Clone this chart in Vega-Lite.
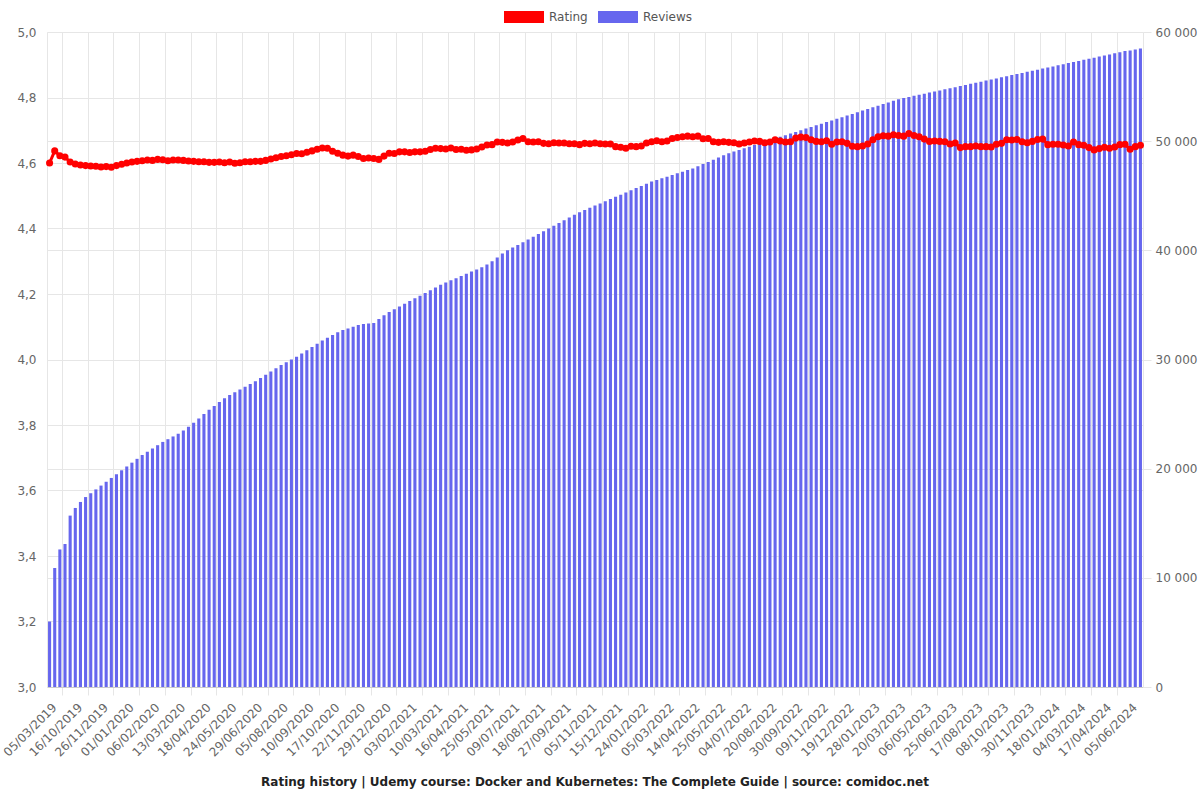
{
"$schema": "https://vega.github.io/schema/vega-lite/v6.json",
"width": 1096, "height": 655,
"autosize": {"type": "none"},
"padding": {"left": 47, "top": 32, "right": 57, "bottom": 113},
"background": "white",
"config": {"font": "DejaVu Sans", "view": {"stroke": null}, "axis": {"labelFont": "DejaVu Sans", "labelFontSize": 12, "labelColor": "#666666"}, "legend": {"labelFont": "DejaVu Sans"}},
"title": {"text": "Rating history | Udemy course: Docker and Kubernetes: The Complete Guide | source: comidoc.net", "orient": "bottom", "anchor": "middle", "fontSize": 12, "fontWeight": "bold", "color": "#222222", "font": "DejaVu Sans", "offset": 19},
"data": {"values": [
{"date":"05/03/2019","rating":4.600,"reviews":6000},
{"date":"19/04/2019","rating":4.637,"reviews":10900},
{"date":"03/06/2019","rating":4.622,"reviews":12600},
{"date":"18/07/2019","rating":4.618,"reviews":13100},
{"date":"01/09/2019","rating":4.603,"reviews":15700},
{"date":"16/10/2019","rating":4.597,"reviews":16400},
{"date":"24/10/2019","rating":4.594,"reviews":16950},
{"date":"01/11/2019","rating":4.592,"reviews":17400},
{"date":"09/11/2019","rating":4.591,"reviews":17750},
{"date":"17/11/2019","rating":4.590,"reviews":18100},
{"date":"26/11/2019","rating":4.588,"reviews":18450},
{"date":"03/12/2019","rating":4.589,"reviews":18800},
{"date":"10/12/2019","rating":4.587,"reviews":19150},
{"date":"17/12/2019","rating":4.592,"reviews":19500},
{"date":"24/12/2019","rating":4.596,"reviews":19850},
{"date":"01/01/2020","rating":4.600,"reviews":20200},
{"date":"08/01/2020","rating":4.603,"reviews":20550},
{"date":"15/01/2020","rating":4.605,"reviews":20900},
{"date":"22/01/2020","rating":4.607,"reviews":21250},
{"date":"29/01/2020","rating":4.609,"reviews":21550},
{"date":"06/02/2020","rating":4.608,"reviews":21850},
{"date":"13/02/2020","rating":4.611,"reviews":22150},
{"date":"20/02/2020","rating":4.610,"reviews":22450},
{"date":"27/02/2020","rating":4.607,"reviews":22700},
{"date":"05/03/2020","rating":4.609,"reviews":22950},
{"date":"13/03/2020","rating":4.609,"reviews":23200},
{"date":"20/03/2020","rating":4.608,"reviews":23500},
{"date":"27/03/2020","rating":4.606,"reviews":23850},
{"date":"03/04/2020","rating":4.605,"reviews":24200},
{"date":"10/04/2020","rating":4.604,"reviews":24600},
{"date":"18/04/2020","rating":4.604,"reviews":25000},
{"date":"25/04/2020","rating":4.602,"reviews":25400},
{"date":"02/05/2020","rating":4.602,"reviews":25750},
{"date":"09/05/2020","rating":4.603,"reviews":26100},
{"date":"16/05/2020","rating":4.601,"reviews":26450},
{"date":"24/05/2020","rating":4.603,"reviews":26750},
{"date":"31/05/2020","rating":4.599,"reviews":27000},
{"date":"07/06/2020","rating":4.601,"reviews":27250},
{"date":"14/06/2020","rating":4.604,"reviews":27500},
{"date":"21/06/2020","rating":4.604,"reviews":27750},
{"date":"29/06/2020","rating":4.605,"reviews":28000},
{"date":"06/07/2020","rating":4.605,"reviews":28300},
{"date":"13/07/2020","rating":4.608,"reviews":28600},
{"date":"20/07/2020","rating":4.612,"reviews":28900},
{"date":"27/07/2020","rating":4.616,"reviews":29200},
{"date":"05/08/2020","rating":4.620,"reviews":29500},
{"date":"12/08/2020","rating":4.622,"reviews":29750},
{"date":"19/08/2020","rating":4.625,"reviews":30000},
{"date":"26/08/2020","rating":4.629,"reviews":30250},
{"date":"02/09/2020","rating":4.628,"reviews":30550},
{"date":"10/09/2020","rating":4.633,"reviews":30850},
{"date":"17/09/2020","rating":4.637,"reviews":31150},
{"date":"24/09/2020","rating":4.642,"reviews":31450},
{"date":"01/10/2020","rating":4.646,"reviews":31750},
{"date":"08/10/2020","rating":4.645,"reviews":32000},
{"date":"17/10/2020","rating":4.636,"reviews":32250},
{"date":"24/10/2020","rating":4.630,"reviews":32500},
{"date":"31/10/2020","rating":4.624,"reviews":32700},
{"date":"07/11/2020","rating":4.621,"reviews":32850},
{"date":"14/11/2020","rating":4.624,"reviews":33000},
{"date":"22/11/2020","rating":4.620,"reviews":33150},
{"date":"29/11/2020","rating":4.614,"reviews":33250},
{"date":"06/12/2020","rating":4.615,"reviews":33300},
{"date":"13/12/2020","rating":4.614,"reviews":33350},
{"date":"20/12/2020","rating":4.611,"reviews":33700},
{"date":"29/12/2020","rating":4.621,"reviews":34050},
{"date":"05/01/2021","rating":4.630,"reviews":34350},
{"date":"12/01/2021","rating":4.629,"reviews":34600},
{"date":"19/01/2021","rating":4.634,"reviews":34850},
{"date":"26/01/2021","rating":4.634,"reviews":35100},
{"date":"03/02/2021","rating":4.632,"reviews":35350},
{"date":"10/02/2021","rating":4.634,"reviews":35600},
{"date":"17/02/2021","rating":4.634,"reviews":35850},
{"date":"24/02/2021","rating":4.636,"reviews":36100},
{"date":"03/03/2021","rating":4.641,"reviews":36350},
{"date":"10/03/2021","rating":4.645,"reviews":36600},
{"date":"17/03/2021","rating":4.644,"reviews":36850},
{"date":"24/03/2021","rating":4.643,"reviews":37050},
{"date":"31/03/2021","rating":4.646,"reviews":37250},
{"date":"08/04/2021","rating":4.641,"reviews":37450},
{"date":"16/04/2021","rating":4.642,"reviews":37650},
{"date":"24/04/2021","rating":4.639,"reviews":37850},
{"date":"02/05/2021","rating":4.640,"reviews":38050},
{"date":"09/05/2021","rating":4.643,"reviews":38250},
{"date":"17/05/2021","rating":4.649,"reviews":38450},
{"date":"25/05/2021","rating":4.655,"reviews":38700},
{"date":"03/06/2021","rating":4.656,"reviews":39000},
{"date":"12/06/2021","rating":4.664,"reviews":39350},
{"date":"21/06/2021","rating":4.663,"reviews":39700},
{"date":"30/06/2021","rating":4.661,"reviews":40000},
{"date":"09/07/2021","rating":4.664,"reviews":40250},
{"date":"17/07/2021","rating":4.670,"reviews":40500},
{"date":"25/07/2021","rating":4.675,"reviews":40750},
{"date":"02/08/2021","rating":4.665,"reviews":41000},
{"date":"10/08/2021","rating":4.664,"reviews":41250},
{"date":"18/08/2021","rating":4.665,"reviews":41500},
{"date":"26/08/2021","rating":4.660,"reviews":41750},
{"date":"03/09/2021","rating":4.659,"reviews":42000},
{"date":"11/09/2021","rating":4.662,"reviews":42250},
{"date":"19/09/2021","rating":4.661,"reviews":42500},
{"date":"27/09/2021","rating":4.661,"reviews":42750},
{"date":"05/10/2021","rating":4.659,"reviews":43000},
{"date":"13/10/2021","rating":4.659,"reviews":43250},
{"date":"21/10/2021","rating":4.656,"reviews":43500},
{"date":"28/10/2021","rating":4.660,"reviews":43700},
{"date":"05/11/2021","rating":4.659,"reviews":43900},
{"date":"13/11/2021","rating":4.661,"reviews":44100},
{"date":"21/11/2021","rating":4.659,"reviews":44300},
{"date":"29/11/2021","rating":4.658,"reviews":44500},
{"date":"07/12/2021","rating":4.658,"reviews":44700},
{"date":"15/12/2021","rating":4.650,"reviews":44900},
{"date":"23/12/2021","rating":4.648,"reviews":45100},
{"date":"31/12/2021","rating":4.645,"reviews":45300},
{"date":"08/01/2022","rating":4.651,"reviews":45500},
{"date":"16/01/2022","rating":4.650,"reviews":45700},
{"date":"24/01/2022","rating":4.652,"reviews":45900},
{"date":"01/02/2022","rating":4.661,"reviews":46100},
{"date":"09/02/2022","rating":4.665,"reviews":46300},
{"date":"17/02/2022","rating":4.668,"reviews":46450},
{"date":"25/02/2022","rating":4.665,"reviews":46600},
{"date":"05/03/2022","rating":4.667,"reviews":46750},
{"date":"13/03/2022","rating":4.675,"reviews":46900},
{"date":"21/03/2022","rating":4.678,"reviews":47050},
{"date":"29/03/2022","rating":4.680,"reviews":47200},
{"date":"06/04/2022","rating":4.682,"reviews":47350},
{"date":"14/04/2022","rating":4.680,"reviews":47500},
{"date":"22/04/2022","rating":4.682,"reviews":47700},
{"date":"30/04/2022","rating":4.674,"reviews":47900},
{"date":"08/05/2022","rating":4.675,"reviews":48100},
{"date":"17/05/2022","rating":4.665,"reviews":48300},
{"date":"25/05/2022","rating":4.663,"reviews":48500},
{"date":"02/06/2022","rating":4.665,"reviews":48700},
{"date":"10/06/2022","rating":4.663,"reviews":48900},
{"date":"18/06/2022","rating":4.662,"reviews":49050},
{"date":"26/06/2022","rating":4.658,"reviews":49200},
{"date":"04/07/2022","rating":4.661,"reviews":49350},
{"date":"13/07/2022","rating":4.664,"reviews":49500},
{"date":"23/07/2022","rating":4.667,"reviews":49650},
{"date":"01/08/2022","rating":4.666,"reviews":49800},
{"date":"10/08/2022","rating":4.662,"reviews":49950},
{"date":"20/08/2022","rating":4.664,"reviews":50100},
{"date":"28/08/2022","rating":4.671,"reviews":50250},
{"date":"05/09/2022","rating":4.667,"reviews":50400},
{"date":"13/09/2022","rating":4.664,"reviews":50550},
{"date":"21/09/2022","rating":4.665,"reviews":50700},
{"date":"30/09/2022","rating":4.676,"reviews":50850},
{"date":"08/10/2022","rating":4.679,"reviews":51000},
{"date":"16/10/2022","rating":4.678,"reviews":51150},
{"date":"24/10/2022","rating":4.671,"reviews":51300},
{"date":"01/11/2022","rating":4.666,"reviews":51450},
{"date":"09/11/2022","rating":4.665,"reviews":51600},
{"date":"17/11/2022","rating":4.668,"reviews":51750},
{"date":"25/11/2022","rating":4.657,"reviews":51900},
{"date":"03/12/2022","rating":4.664,"reviews":52050},
{"date":"11/12/2022","rating":4.665,"reviews":52200},
{"date":"19/12/2022","rating":4.660,"reviews":52350},
{"date":"27/12/2022","rating":4.651,"reviews":52500},
{"date":"04/01/2023","rating":4.650,"reviews":52650},
{"date":"12/01/2023","rating":4.652,"reviews":52800},
{"date":"20/01/2023","rating":4.658,"reviews":52950},
{"date":"28/01/2023","rating":4.671,"reviews":53100},
{"date":"07/02/2023","rating":4.680,"reviews":53250},
{"date":"17/02/2023","rating":4.683,"reviews":53400},
{"date":"28/02/2023","rating":4.682,"reviews":53550},
{"date":"10/03/2023","rating":4.686,"reviews":53700},
{"date":"20/03/2023","rating":4.684,"reviews":53850},
{"date":"29/03/2023","rating":4.682,"reviews":53950},
{"date":"08/04/2023","rating":4.690,"reviews":54050},
{"date":"17/04/2023","rating":4.684,"reviews":54150},
{"date":"27/04/2023","rating":4.680,"reviews":54250},
{"date":"06/05/2023","rating":4.673,"reviews":54350},
{"date":"16/05/2023","rating":4.666,"reviews":54450},
{"date":"26/05/2023","rating":4.667,"reviews":54550},
{"date":"05/06/2023","rating":4.666,"reviews":54650},
{"date":"15/06/2023","rating":4.665,"reviews":54750},
{"date":"25/06/2023","rating":4.658,"reviews":54850},
{"date":"05/07/2023","rating":4.661,"reviews":54950},
{"date":"16/07/2023","rating":4.647,"reviews":55050},
{"date":"27/07/2023","rating":4.650,"reviews":55150},
{"date":"06/08/2023","rating":4.650,"reviews":55250},
{"date":"17/08/2023","rating":4.652,"reviews":55350},
{"date":"27/08/2023","rating":4.650,"reviews":55450},
{"date":"07/09/2023","rating":4.650,"reviews":55550},
{"date":"17/09/2023","rating":4.649,"reviews":55650},
{"date":"28/09/2023","rating":4.657,"reviews":55750},
{"date":"08/10/2023","rating":4.660,"reviews":55850},
{"date":"18/10/2023","rating":4.671,"reviews":55950},
{"date":"29/10/2023","rating":4.670,"reviews":56050},
{"date":"09/11/2023","rating":4.672,"reviews":56150},
{"date":"19/11/2023","rating":4.665,"reviews":56250},
{"date":"30/11/2023","rating":4.662,"reviews":56350},
{"date":"10/12/2023","rating":4.666,"reviews":56450},
{"date":"20/12/2023","rating":4.672,"reviews":56550},
{"date":"29/12/2023","rating":4.673,"reviews":56650},
{"date":"08/01/2024","rating":4.656,"reviews":56750},
{"date":"18/01/2024","rating":4.657,"reviews":56850},
{"date":"27/01/2024","rating":4.657,"reviews":56950},
{"date":"05/02/2024","rating":4.655,"reviews":57050},
{"date":"14/02/2024","rating":4.652,"reviews":57150},
{"date":"23/02/2024","rating":4.664,"reviews":57250},
{"date":"04/03/2024","rating":4.656,"reviews":57350},
{"date":"13/03/2024","rating":4.654,"reviews":57450},
{"date":"22/03/2024","rating":4.647,"reviews":57550},
{"date":"30/03/2024","rating":4.640,"reviews":57650},
{"date":"08/04/2024","rating":4.644,"reviews":57750},
{"date":"17/04/2024","rating":4.648,"reviews":57850},
{"date":"27/04/2024","rating":4.645,"reviews":57950},
{"date":"07/05/2024","rating":4.649,"reviews":58050},
{"date":"16/05/2024","rating":4.656,"reviews":58150},
{"date":"26/05/2024","rating":4.657,"reviews":58250},
{"date":"05/06/2024","rating":4.642,"reviews":58300},
{"date":"14/06/2024","rating":4.650,"reviews":58400},
{"date":"23/06/2024","rating":4.654,"reviews":58500}
]},
"layer": [
{
"mark": {"type": "bar"},
"encoding": {
"x": {"field": "date", "type": "ordinal", "sort": null, "scale": {"paddingInner": 0.4, "paddingOuter": 0.2},
"axis": {"title": null, "orient": "bottom", "values": ["18/07/2019","09/11/2019","17/12/2019","22/01/2020","27/02/2020","03/04/2020","09/05/2020","14/06/2020","20/07/2020","26/08/2020","01/10/2020","07/11/2020","13/12/2020","19/01/2021","24/02/2021","31/03/2021","09/05/2021","21/06/2021","02/08/2021","11/09/2021","21/10/2021","29/11/2021","08/01/2022","17/02/2022","29/03/2022","08/05/2022","18/06/2022","01/08/2022","13/09/2022","24/10/2022","03/12/2022","12/01/2023","28/02/2023","17/04/2023","05/06/2023","27/07/2023","17/09/2023","09/11/2023","29/12/2023","14/02/2024","30/03/2024","16/05/2024"],
"bandPosition": -0.3333, "grid": true, "gridColor": "#e6e6e6", "gridWidth": 1, "ticks": true, "tickSize": 8, "tickColor": "#e6e6e6", "labels": false, "domain": true, "domainColor": "#cccccc", "zindex": 0}},
"y": {"field": "reviews", "type": "quantitative", "scale": {"domain": [0, 60000], "nice": false, "zero": true},
"axis": {"title": null, "orient": "right", "values": [0, 10000, 20000, 30000, 40000, 50000, 60000], "labelExpr": "replace(format(datum.value, ','), ',', ' ')", "grid": true, "gridColor": "#e6e6e6", "ticks": true, "tickSize": 8, "tickColor": "#e6e6e6", "domain": true, "domainColor": "#e6e6e6", "labelPadding": 4, "zindex": 0}},
"color": {"datum": "Reviews", "type": "nominal", "scale": {"domain": ["Rating", "Reviews"], "range": ["#ff0000", "#6666ee"]},
"legend": {"title": null, "orient": "none", "legendX": 457, "legendY": -35, "direction": "horizontal", "symbolType": "M-1,-0.3H1V0.3H-1Z", "symbolSize": 1600, "symbolStrokeWidth": 0, "symbolOpacity": 1, "labelFontSize": 12, "labelColor": "#555555", "labelOffset": 5, "columnPadding": 10}}
}
},
{
"mark": {"type": "line", "color": "#ff0000", "strokeWidth": 3, "point": {"filled": true, "color": "#ff0000", "size": 50, "opacity": 1}},
"encoding": {
"x": {"field": "date", "type": "ordinal", "sort": null,
"axis": {"title": null, "orient": "bottom", "values": ["05/03/2019","16/10/2019","26/11/2019","01/01/2020","06/02/2020","13/03/2020","18/04/2020","24/05/2020","29/06/2020","05/08/2020","10/09/2020","17/10/2020","22/11/2020","29/12/2020","03/02/2021","10/03/2021","16/04/2021","25/05/2021","09/07/2021","18/08/2021","27/09/2021","05/11/2021","15/12/2021","24/01/2022","05/03/2022","14/04/2022","25/05/2022","04/07/2022","20/08/2022","30/09/2022","09/11/2022","19/12/2022","28/01/2023","20/03/2023","06/05/2023","25/06/2023","17/08/2023","08/10/2023","30/11/2023","18/01/2024","04/03/2024","17/04/2024","05/06/2024"],
"labelAngle": -45, "labelAlign": "right", "labelBaseline": "middle", "ticks": false, "domain": false, "grid": false, "labelPadding": 18, "labelOffset": 5, "labelOverlap": false, "labelBound": false, "labelFlush": false}},
"y": {"field": "rating", "type": "quantitative", "scale": {"domain": [3, 5], "nice": false, "zero": false},
"axis": {"title": null, "orient": "left", "values": [3, 3.2, 3.4, 3.6, 3.8, 4, 4.2, 4.4, 4.6, 4.8, 5], "labelExpr": "replace(format(datum.value, '.1f'), '.', ',')", "grid": true, "gridColor": "#e6e6e6", "ticks": false, "domain": true, "domainColor": "#e6e6e6", "labelPadding": 11, "zindex": 0}}
}
}
],
"resolve": {"scale": {"y": "independent"}, "axis": {"x": "independent"}}
}
